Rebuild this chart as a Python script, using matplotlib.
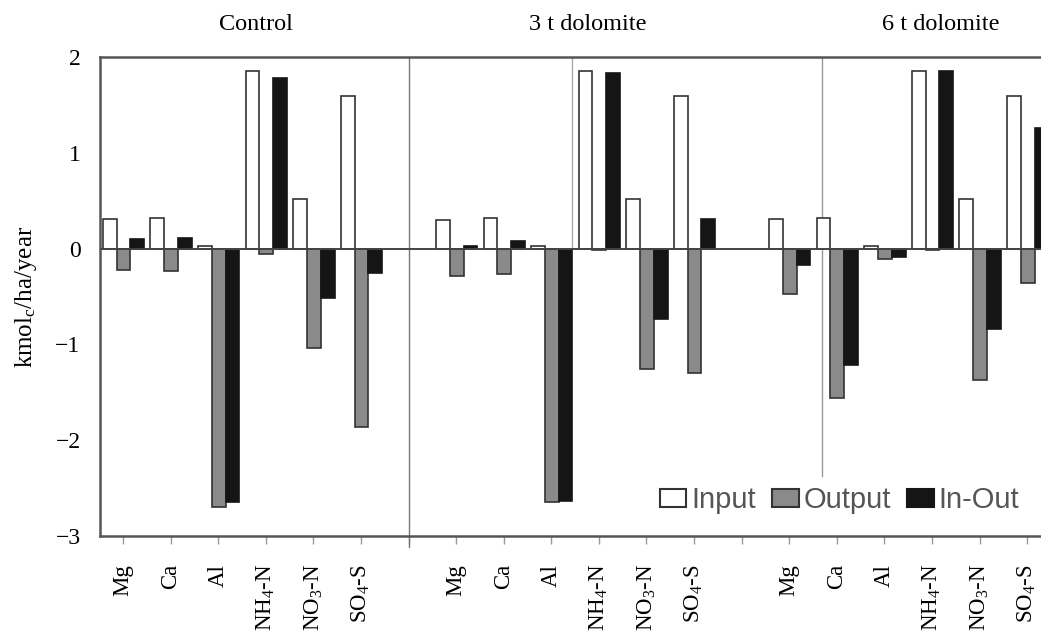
import numpy as np
import matplotlib
matplotlib.use("Agg")
import matplotlib.pyplot as plt
from matplotlib.patches import Patch

plt.rcParams['font.family'] = ['Liberation Serif', 'DejaVu Serif']
plt.rcParams['mathtext.fontset'] = 'custom'
plt.rcParams['mathtext.rm'] = 'Liberation Serif'
plt.rcParams['mathtext.it'] = 'Liberation Serif:italic'

# data
treatments = ['Control', '3 t dolomite', '6 t dolomite']
elements = ['Mg', 'Ca', 'Al', r'NH$_4$-N', r'NO$_3$-N', r'SO$_4$-S']
input_vals = [
    [0.31, 0.32, 0.03, 1.85, 0.52, 1.59],
    [0.30, 0.32, 0.03, 1.85, 0.52, 1.59],
    [0.31, 0.32, 0.03, 1.85, 0.52, 1.59],
]
output_vals = [
    [-0.22, -0.23, -2.70, -0.06, -1.04, -1.86],
    [-0.29, -0.27, -2.65, -0.01, -1.26, -1.30],
    [-0.47, -1.56, -0.11, -0.01, -1.37, -0.36],
]
inout_vals = [
    [0.10, 0.11, -2.65, 1.78, -0.52, -0.25],
    [0.03, 0.08, -2.63, 1.83, -0.74, 0.31],
    [-0.17, -1.22, -0.09, 1.85, -0.84, 1.26],
]
series_names = ['Input', 'Output', 'In-Out']

fig = plt.figure(figsize=(10.41, 6.34), dpi=100)
ax = fig.add_axes([0.0961, 0.1546, 0.9039, 0.7555])

w = 0.29
fills = ['white', '#8a8a8a', '#151515']
edges = ['#333333', '#333333', '#151515']
ticks = []
labels = []
for g in range(len(treatments)):
    base = np.arange(len(elements)) + g * 7
    for k, vals in enumerate([input_vals[g], output_vals[g], inout_vals[g]]):
        ax.bar(base + (k - 1) * w + 0.01, vals, width=w, color=fills[k],
               edgecolor=edges[k], linewidth=1.2, zorder=3)
    ticks += list(base)
    labels += elements
    if g < 2:
        ticks.append(g * 7 + 6)
        labels.append('')

ax.axhline(0, color='#444444', lw=1.4, zorder=4)

# separator lines left over in the figure
ax.plot([6.01, 6.01], [2, -3.12], color='#777777', lw=1.0, clip_on=False, zorder=2)
ax.plot([9.44, 9.44], [2, 0], color='#aaaaaa', lw=1.0, zorder=2)
ax.plot([14.69, 14.69], [2, -2.37], color='#999999', lw=1.0, zorder=2)

ax.set_xlim(-0.483, 19.29)
ax.set_ylim(-3, 2)
ax.set_yticks([2, 1, 0, -1, -2, -3])
ax.set_yticklabels(['2', '1', '0', '\u22121', '\u22122', '\u22123'])
ax.tick_params(axis='y', length=0, pad=14, labelsize=17)
ax.set_xticks(ticks)
ax.set_xticklabels(labels, rotation=90, fontsize=16.5)
ax.tick_params(axis='x', length=6, width=1.0, color='#999999', pad=14)

for s in ['top', 'left', 'bottom']:
    ax.spines[s].set_color('#555555')
    ax.spines[s].set_linewidth(1.8)
ax.spines['right'].set_visible(False)

ax.set_ylabel(r'kmol$_\mathrm{c}$/ha/year', fontsize=18, labelpad=12)

xs = [256, 588, 941]
for t, x in zip(treatments, xs):
    fig.text(x / 1041, 1 - 24 / 634, t, ha='center', va='center', fontsize=17.5)

handles = [Patch(facecolor=fills[k], edgecolor=edges[k], linewidth=1.5) for k in range(3)]
leg = ax.legend(handles, series_names, loc='center right', bbox_to_anchor=(1.005, 0.075),
                ncol=3, frameon=False, handlelength=0.9, handleheight=0.6,
                handletextpad=0.18, columnspacing=0.55,
                prop={'family': 'Liberation Sans', 'size': 21})
for txt in leg.get_texts():
    txt.set_color('#555555')

fig.savefig('out.png', dpi=100)
